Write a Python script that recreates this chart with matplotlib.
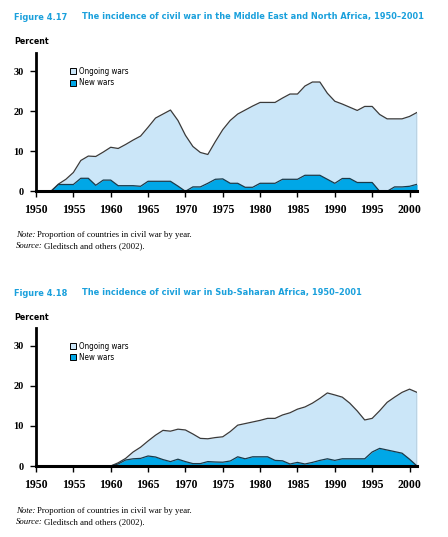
import matplotlib.pyplot as plt
from matplotlib.patches import Patch

years = list(range(1950, 2002))

# Figure 4.17 - Middle East and North Africa (percent of countries)
mena_ongoing = [0, 0, 0, 1.8, 3.0, 4.7, 7.7, 8.8, 8.7, 9.8,
                11.0, 10.7, 11.7, 12.8, 13.8, 16.0, 18.3, 19.3, 20.3, 17.7,
                14.0, 11.2, 9.7, 9.2, 12.4, 15.4, 17.7, 19.3, 20.3, 21.3,
                22.2, 22.2, 22.2, 23.3, 24.3, 24.3, 26.3, 27.3, 27.3, 24.5,
                22.5, 21.8, 21.0, 20.2, 21.2, 21.2, 19.2, 18.1, 18.1, 18.1,
                18.7, 19.7]
mena_new = [0, 0, 0, 1.7, 1.7, 1.7, 3.25, 3.25, 1.5, 2.8,
            2.8, 1.4, 1.4, 1.4, 1.25, 2.5, 2.5, 2.5, 2.5, 1.3,
            0, 1.1, 1.1, 2.0, 3.0, 3.1, 2.0, 2.0, 1.0, 1.0,
            2.0, 2.0, 2.0, 3.0, 3.0, 3.0, 4.0, 4.0, 4.0, 3.0,
            2.0, 3.2, 3.2, 2.2, 2.2, 2.2, 0, 0, 1.1, 1.1,
            1.25, 1.75]

# Figure 4.18 - Sub-Saharan Africa
ssa_ongoing = [0, 0, 0, 0, 0, 0, 0, 0, 0, 0,
               0, 0.8, 1.9, 3.5, 4.7, 6.25, 7.7, 8.9, 8.7, 9.2,
               9.0, 8.0, 6.9, 6.8, 7.1, 7.3, 8.6, 10.2, 10.6, 11.0,
               11.4, 11.9, 11.9, 12.75, 13.3, 14.2, 14.75, 15.7, 16.9, 18.25,
               17.75, 17.2, 15.7, 13.75, 11.5, 11.9, 13.8, 15.9, 17.2, 18.4,
               19.2, 18.4]
ssa_new = [0, 0, 0, 0, 0, 0, 0, 0, 0, 0,
           0, 0.5, 1.5, 1.8, 1.9, 2.5, 2.25, 1.6, 1.1, 1.7,
           1.1, 0.6, 0.6, 1.1, 1.0, 0.95, 1.25, 2.3, 1.8, 2.3,
           2.3, 2.3, 1.4, 1.3, 0.5, 0.9, 0.5, 0.9, 1.4, 1.8,
           1.4, 1.8, 1.8, 1.8, 1.8, 3.5, 4.4, 4.0, 3.6, 3.2,
           1.7, 0]

xticks = list(range(1950, 2001, 5))
yticks = [0, 10, 20, 30]

light = '#cbe6f8'
dark = '#00a7e7'
title_blue = '#1aa0dc'
sans = 'DejaVu Sans'
serif = 'Liberation Serif'

fig = plt.figure(figsize=(4.48, 5.37), dpi=100)


def notes(ax, top_y):
    y1 = 1 - (top_y + 218) / 537
    y2 = 1 - (top_y + 229) / 537
    for y, lead, rest in [(y1, 'Note:', 'Proportion of countries in civil war by year.'),
                          (y2, 'Source:', 'Gleditsch and others (2002).')]:
        t = fig.text(16 / 448, y, lead, fontsize=6.3, family=serif,
                     style='italic', va='center')
        ax.annotate(rest, xy=(1, 0.5), xycoords=t, xytext=(1.2, 0),
                    textcoords='offset points', fontsize=6.3, family=serif,
                    va='center', annotation_clip=False)


def build(bottom, top_y, fig_no, title, ongoing, new):
    ax = fig.add_axes([36 / 448, bottom, 381 / 448, 138.5 / 537])
    ax.fill_between(years, ongoing, color=light, lw=0)
    ax.plot(years, ongoing, color='#3a3a3a', lw=0.9)
    ax.fill_between(years, new, color=dark, lw=0)
    ax.plot(years, new, color='#1a3a4a', lw=0.9)
    ax.vlines(2001, 0, ongoing[-1], color='#555555', lw=0.9)
    ax.set_xlim(1950, 2001)
    ax.set_ylim(0, 34.6)
    for s in ['top', 'right']:
        ax.spines[s].set_visible(False)
    ax.spines['left'].set_linewidth(2)
    ax.spines['bottom'].set_linewidth(2.2)
    ax.set_xticks(xticks)
    ax.set_yticks(yticks)
    ax.tick_params(length=4, width=1, direction='out', pad=5)
    for lab in ax.get_xticklabels():
        lab.set_fontfamily(serif)
        lab.set_fontweight('bold')
        lab.set_fontsize(8.5)
    for lab in ax.get_yticklabels():
        lab.set_fontfamily(serif)
        lab.set_fontweight('bold')
        lab.set_fontsize(7.5)
    handles = [Patch(facecolor=light, edgecolor='black', lw=0.7, label='Ongoing wars'),
               Patch(facecolor=dark, edgecolor='black', lw=0.7, label='New wars')]
    ax.legend(handles=handles, loc='upper left', bbox_to_anchor=(0.07, 0.95),
              frameon=False, handlelength=0.8, handleheight=0.8,
              handletextpad=0.3, labelspacing=0.3,
              prop={'family': sans, 'size': 5.8, 'stretch': 'condensed'})
    fig.text(14 / 448, 1 - top_y / 537, fig_no, color=title_blue,
             fontsize=6.6, fontweight='bold', family=sans, stretch='condensed',
             va='center')
    fig.text(82 / 448, 1 - top_y / 537, title, color=title_blue,
             fontsize=6.6, fontweight='bold', family=sans, stretch='condensed',
             va='center')
    fig.text(14 / 448, 1 - (top_y + 24) / 537, 'Percent', color='black',
             fontsize=6.3, fontweight='bold', family=sans, stretch='condensed',
             va='center')
    notes(ax, top_y)
    return ax


build(1 - 191.3 / 537, 17, 'Figure 4.17',
      'The incidence of civil war in the Middle East and North Africa, 1950\u20132001',
      mena_ongoing, mena_new)
build(1 - 466 / 537, 293, 'Figure 4.18',
      'The incidence of civil war in Sub-Saharan Africa, 1950\u20132001',
      ssa_ongoing, ssa_new)

fig.savefig('out.png', dpi=100)
